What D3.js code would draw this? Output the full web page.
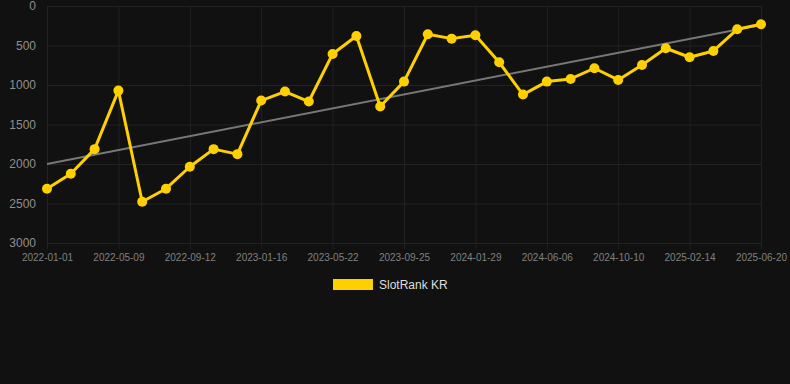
<!DOCTYPE html>
<html>
<head>
<meta charset="utf-8">
<script src="https://cdn.jsdelivr.net/npm/d3@7"></script>
<style>
  html, body { margin: 0; padding: 0; background: #111111; }
  svg { display: block; font-family: "Liberation Sans", Arial, sans-serif; }
</style>
</head>
<body>
<div id="chart"></div>
<script>
// dates of each sample (every 3rd one is labelled on the axis)
const dates = [
  '2022-01-01', '2022-02-12', '2022-03-26', '2022-05-09', '2022-06-20', '2022-08-01',
  '2022-09-12', '2022-10-24', '2022-12-05', '2023-01-16', '2023-02-27', '2023-04-10',
  '2023-05-22', '2023-07-03', '2023-08-14', '2023-09-25', '2023-11-06', '2023-12-18',
  '2024-01-29', '2024-03-12', '2024-04-24', '2024-06-06', '2024-07-18', '2024-08-29',
  '2024-10-10', '2024-11-21', '2025-01-02', '2025-02-14', '2025-03-28', '2025-05-09',
  '2025-06-20'
]
const rankKR = [
  2313, 2124, 1812, 1071, 2478, 2313, 2035, 1812, 1875, 1197, 1083,
  1209, 607, 379, 1273, 957, 358, 413, 371, 712, 1121,
  957, 923, 788, 936, 746, 535, 649, 569, 295, 232
]
const trendEnds = [2000, 240]
const yTicks = [0, 500, 1000, 1500, 2000, 2500, 3000]
const seriesName = 'SlotRank KR'

const width = 790
const height = 384
const margin = { top: 6, right: 29, left: 47, bottom: 141 }

let svg = d3.select('#chart')
  .append('svg')
  .attr('width', width)
  .attr('height', height)

svg.append('rect')
  .attr('width', width)
  .attr('height', height)
  .attr('fill', '#111111')

const x = d3.scalePoint()
  .domain(dates)
  .range([margin.left, width - margin.right])

const y = d3.scaleLinear()
  .domain([0, 3000])
  .range([margin.top, height - margin.bottom])

const labelDates = dates.filter((d, i) => i % 3 === 0)

// grid
let grid = svg.append('g').classed('grid', true)
grid.selectAll('line.h')
  .data(yTicks)
  .enter()
  .append('line')
  .attr('class', 'h')
  .attr('x1', margin.left)
  .attr('x2', width - margin.right)
  .attr('y1', d => y(d) + 0.5)
  .attr('y2', d => y(d) + 0.5)
  .attr('stroke', '#222')
  .attr('stroke-width', 1)

grid.selectAll('line.v')
  .data(labelDates)
  .enter()
  .append('line')
  .attr('class', 'v')
  .attr('x1', d => x(d) + 0.5)
  .attr('x2', d => x(d) + 0.5)
  .attr('y1', margin.top)
  .attr('y2', y(3000) + 6)
  .attr('stroke', '#222')
  .attr('stroke-width', 1)

// axes
const yAxis = d3.axisLeft(y)
  .tickValues(yTicks)
  .tickFormat(d3.format('d'))
  .tickSize(0)
  .tickPadding(11)
let gy = svg.append('g')
  .attr('transform', `translate(${margin.left},0)`)
  .call(yAxis)
gy.select('.domain').remove()
gy.selectAll('text')
  .attr('fill', '#8f8f8f')
  .style('font-size', '12px')
  .style('font-family', '"Liberation Sans", Arial, sans-serif')

const xAxis = d3.axisBottom(x)
  .tickValues(labelDates)
  .tickSize(0)
  .tickPadding(11)
let gx = svg.append('g')
  .attr('transform', `translate(0,${y(3000)})`)
  .call(xAxis)
gx.select('.domain').remove()
gx.selectAll('text')
  .attr('fill', '#808080')
  .style('font-size', '10px')
  .style('font-family', '"Liberation Sans", Arial, sans-serif')

// trend line
svg.append('line')
  .attr('x1', x(dates[0]))
  .attr('y1', y(trendEnds[0]))
  .attr('x2', x(dates[dates.length - 1]))
  .attr('y2', y(trendEnds[1]))
  .attr('stroke', '#777')
  .attr('stroke-width', 2)

// series
const line = d3.line()
  .x((d, i) => x(dates[i]))
  .y(d => y(d))

svg.append('path')
  .datum(rankKR)
  .attr('d', line)
  .attr('fill', 'none')
  .attr('stroke', '#FFD000')
  .attr('stroke-width', 3)
  .attr('stroke-linejoin', 'round')

svg.append('g')
  .classed('circles', true)
  .selectAll('circle')
  .data(rankKR)
  .enter()
  .append('circle')
  .attr('cx', (d, i) => x(dates[i]))
  .attr('cy', d => y(d))
  .attr('r', 5)
  .attr('fill', '#FFD000')

// legend
let legend = svg.append('g')
  .attr('transform', 'translate(333,279)')
legend.append('rect')
  .attr('width', 40)
  .attr('height', 11)
  .attr('fill', '#FFD000')
legend.append('text')
  .attr('x', 46)
  .attr('y', 9.5)
  .attr('fill', '#dddddd')
  .style('font-size', '12px')
  .text(seriesName)
</script>
</body>
</html>
